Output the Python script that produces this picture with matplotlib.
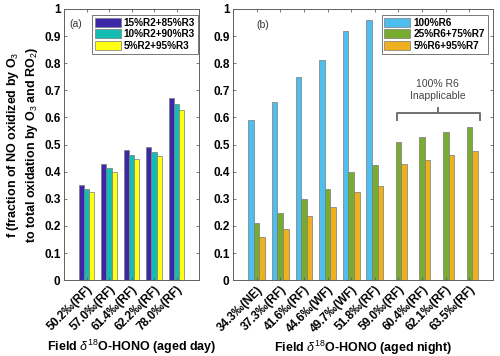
import numpy as np
import matplotlib
matplotlib.use("Agg")
import matplotlib.pyplot as plt

plt.rcParams['font.family'] = ['Liberation Sans', 'DejaVu Sans']
plt.rcParams['mathtext.fontset'] = 'custom'
plt.rcParams['mathtext.rm'] = 'Liberation Sans'
plt.rcParams['mathtext.it'] = 'Liberation Sans:italic'
plt.rcParams['mathtext.bf'] = 'Liberation Sans:bold'

# panel (a): aged day
day_labels = ["50.2‰(RF)", "57.0‰(RF)", "61.4‰(RF)", "62.2‰(RF)", "78.0‰(RF)"]
day_series = ["15%R2+85%R3", "10%R2+90%R3", "5%R2+95%R3"]
day_r2_15 = [0.350, 0.430, 0.480, 0.490, 0.670]
day_r2_10 = [0.336, 0.414, 0.463, 0.472, 0.650]
day_r2_5 = [0.325, 0.399, 0.447, 0.457, 0.628]
day_colors = ["#3e26a8", "#14bdb4", "#ffff14"]

# panel (b): aged night
night_labels = ["34.3‰(NE)", "37.3‰(RF)", "41.6‰(RF)", "44.6‰(WF)", "49.7‰(WF)",
                "51.8‰(RF)", "59.0‰(RF)", "60.4‰(RF)", "62.1‰(RF)", "63.5‰(RF)"]
night_series = ["100%R6", "25%R6+75%R7", "5%R6+95%R7"]
night_r6 = [0.590, 0.655, 0.750, 0.810, 0.920, 0.960, 0, 0, 0, 0]
night_r6_25 = [0.210, 0.247, 0.300, 0.336, 0.400, 0.423, 0.510, 0.528, 0.548, 0.565]
night_r6_5 = [0.159, 0.190, 0.237, 0.270, 0.325, 0.348, 0.427, 0.442, 0.461, 0.476]
night_colors = ["#4dbeee", "#77ac30", "#edb120"]

edge = "#7a7a7a"
frame = "#606060"

fig = plt.figure(figsize=(5.0, 3.56), dpi=100)
ax1 = fig.add_axes([0.128, 0.213, 0.270, 0.762])
ax2 = fig.add_axes([0.466, 0.213, 0.520, 0.762])


def grouped_bars(ax, series, names, colors):
    x = np.arange(1, len(series[0]) + 1)
    w = 0.235
    for i, (vals, name, col) in enumerate(zip(series, names, colors)):
        ax.bar(x + (i - 1) * w, vals, width=w, color=col, edgecolor=edge,
               linewidth=0.5, label=name)
    return x


def style(ax, x, labels, xlim):
    ax.set_xlim(*xlim)
    ax.set_ylim(0, 1)
    ax.set_yticks(np.arange(0, 1.01, 0.1))
    ax.set_yticklabels(["0", "0.1", "0.2", "0.3", "0.4", "0.5", "0.6", "0.7", "0.8", "0.9", "1"])
    ax.set_xticks(x)
    ax.set_xticklabels(labels, rotation=45, ha="right", rotation_mode="anchor",
                       fontsize=7.5, fontweight="bold")
    ax.tick_params(direction="in", length=2.5, width=0.6, color=frame,
                   top=True, right=True, labelsize=8.5, pad=2.5)
    for lab in ax.get_yticklabels():
        lab.set_fontweight("bold")
    for s in ax.spines.values():
        s.set_color(frame)
        s.set_linewidth(0.7)


x1 = grouped_bars(ax1, [day_r2_15, day_r2_10, day_r2_5], day_series, day_colors)
style(ax1, x1, day_labels, (0, 6))
x2 = grouped_bars(ax2, [night_r6, night_r6_25, night_r6_5], night_series, night_colors)
style(ax2, x2, night_labels, (0, 11))

ax1.set_ylabel("f (fraction of NO oxidized by O$_3$\nto total oxidation by O$_3$ and RO$_2$)",
               fontsize=9, fontweight="bold", labelpad=3, linespacing=1.25)
ax1.set_xlabel(r"Field $\delta^{18}$O-HONO (aged day)", fontsize=9, fontweight="bold", labelpad=3)
ax2.set_xlabel(r"Field $\delta^{18}$O-HONO (aged night)", fontsize=9, fontweight="bold", labelpad=3)

leg_kw = dict(loc="upper right", prop={"weight": "bold", "size": 7.2},
              handlelength=2.6, handleheight=1.0, handletextpad=0.3, borderpad=0.28,
              labelspacing=0.14, borderaxespad=0, fancybox=False, framealpha=1,
              edgecolor=frame)
l1 = ax1.legend(bbox_to_anchor=(0.99, 0.977), **leg_kw)
l2 = ax2.legend(bbox_to_anchor=(0.98, 0.977), **leg_kw)
for l in (l1, l2):
    l.get_frame().set_linewidth(0.6)

ax1.text(0.04, 0.935, "(a)", transform=ax1.transAxes, fontsize=7.5, color="#333333")
ax2.text(0.09, 0.93, "(b)", transform=ax2.transAxes, fontsize=7.5, color="#333333")

# bracket over the last four groups
bx0, bx1, bmid = 6.95, 10.47, 8.69
ylo, yline, ytip = 0.590, 0.616, 0.636
ax2.plot([bx0, bx0, bx1, bx1], [ylo, yline, yline, ylo], color="#707070", lw=1.4,
         solid_joinstyle="round")
ax2.plot([bmid, bmid], [yline, ytip], color="#707070", lw=1.4)
ax2.text(8.65, 0.70, "100% R6\nInapplicable", ha="center", va="center", fontsize=7.5,
         color="#444444", linespacing=1.2)

fig.savefig("out.png", dpi=100)
